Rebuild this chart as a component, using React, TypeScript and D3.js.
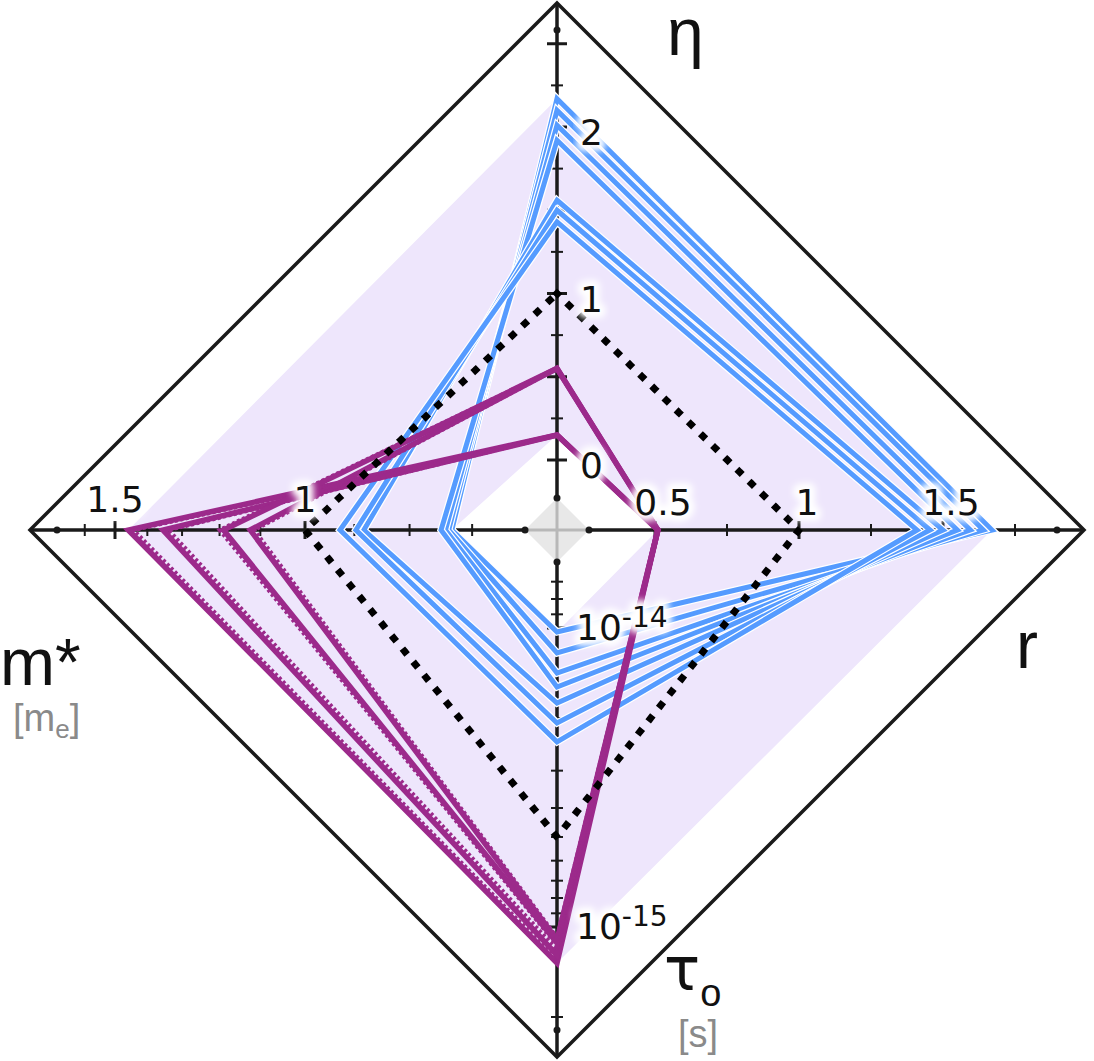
import React from 'react';
import * as d3 from 'd3';

const W = 1094;
const H = 1061;
const cx = 557;
const cy = 530;
const R_OUTER = 527;
const R_MIN = 32;
const R_MAX = 500;

// ---- axis tick definitions (data units) ----
const etaMajor = [0, 0.5, 1, 1.5, 2, 2.5];
const etaMinor = [0.25, 0.75, 1.25, 1.75, 2.25];
const etaLabels = [0, 1, 2];

const rMajor = [0.5, 1, 1.5];
const rMinor = [0.75, 1.25, 1.75];
const rLabels = [0.5, 1, 1.5];

const tauMajor = [1e-14, 1e-15];
const tauMinorRates = [0.7, 0.8, 0.9, 2, 3, 4, 5, 6, 7, 8, 9, 20]; // 1/tau in units of 1e14 s^-1
const tauLabels = [{ v: 1e-14, exp: '-14' }, { v: 1e-15, exp: '-15' }];

const massMajor = [1, 1.5];
const massMinor = [0.7, 0.8, 0.9, 1.1, 1.2, 1.3, 1.4, 1.6];
const massLabels = [1, 1.5];

// reference (dotted) values: eta, r, tau, m*
const refValues = [1, 1, 2e-15, 1];

// ---- blue series ----
const blueEta = [2.17, 2.1, 2.01, 1.92, 1.56, 1.5, 1.43];
const blueR = [1.67, 1.64, 1.595, 1.55, 1.5, 1.455, 1.41];
const blueTau = [9.7e-15, 8.25e-15, 7.07e-15, 6.35e-15, 5.61e-15, 4.81e-15, 4.16e-15];
const blueMass = [0.731, 0.736, 0.741, 0.748, 0.882, 0.897, 0.928];

// ---- purple series ----
const purpleEta = [0.15, 0.15, 0.15, 0.15, 0.55, 0.55, 0.55, 0.55];
const purpleR = [0.51, 0.51, 0.51, 0.51, 0.51, 0.51, 0.51, 0.51];
const purpleTau = [7.58e-16, 7.76e-16, 8.06e-16, 8.38e-16, 8.71e-16, 8.85e-16, 9.06e-16, 9.2e-16];
const purpleMass = [1.458, 1.443, 1.354, 1.339, 1.199, 1.19, 1.124, 1.115];
const purpleDashed = [false, true, false, true, true, false, false, true];

const BLUE = '#559bff';
const PURPLE = '#9c2a8b';
const LAVENDER = '#eee6fc';
const INK = '#1a1a1a';

const sEta = d3.scaleLinear().domain([0, 2]).range([70, 403]);
const sR = d3.scaleLinear().domain([0.5, 1.5]).range([98, 386]);
const sTau = d3.scaleLog().domain([1e-14, 1e-15]).range([98, 397]);
const sMass = d3.scaleLog().domain([1, 1.5]).range([252, 442]);
const scales: any[] = [sEta, sR, sTau, sMass];
const dirs = [
  [0, -1],
  [1, 0],
  [0, 1],
  [-1, 0],
];

function pt(axis: number, radius: number): [number, number] {
  return [cx + dirs[axis][0] * radius, cy + dirs[axis][1] * radius];
}

const blueSeries = blueEta.map((_, i) => [blueEta[i], blueR[i], blueTau[i], blueMass[i]]);
const purpleSeries = purpleEta.map((_, i) => [purpleEta[i], purpleR[i], purpleTau[i], purpleMass[i]]);
const allSeries = [...blueSeries, ...purpleSeries];

const lineGen = d3
  .line<[number, number]>()
  .x((d) => d[0])
  .y((d) => d[1])
  .curve(d3.curveLinearClosed);

function seriesPath(vals: number[]) {
  return lineGen(vals.map((v, a) => pt(a, scales[a](v))));
}

function radii(vals: number[]) {
  return vals.map((v, a) => scales[a](v));
}

const maxR = [0, 1, 2, 3].map((a) => d3.max(allSeries, (s) => scales[a](s[a])) as number);
const minR = [0, 1, 2, 3].map((a) => d3.min(allSeries, (s) => scales[a](s[a])) as number);

function polyPath(rs: number[]) {
  return lineGen(rs.map((r, a) => pt(a, r)));
}

const tickFont = '"DejaVu Sans", Verdana, sans-serif';
const nameFont = '"Liberation Sans", Arial, Helvetica, sans-serif';

function Ticks() {
  const items: JSX.Element[] = [];
  const add = (axis: number, radius: number, half: number, w: number, key: string) => {
    const [x, y] = pt(axis, radius);
    const horiz = axis === 1 || axis === 3;
    items.push(
      <line
        key={key}
        x1={horiz ? x : x - half}
        x2={horiz ? x : x + half}
        y1={horiz ? y - half : y}
        y2={horiz ? y + half : y}
        stroke={INK}
        strokeWidth={w}
      />
    );
  };
  etaMajor.forEach((v, i) => add(0, sEta(v), 10, 3, 'em' + i));
  etaMinor.forEach((v, i) => add(0, sEta(v), 6, 2, 'en' + i));
  rMajor.forEach((v, i) => add(1, sR(v), 9, 3, 'rm' + i));
  rMinor.forEach((v, i) => add(1, sR(v), 6, 2, 'rn' + i));
  tauMajor.forEach((v, i) => add(2, sTau(v), 10, 3, 'tm' + i));
  tauMinorRates.forEach((k, i) => add(2, sTau(1e-14 / k), 6, 2, 'tn' + i));
  massMajor.forEach((v, i) => add(3, sMass(v), 9, 3, 'mm' + i));
  massMinor.forEach((v, i) => add(3, sMass(v), 6, 2, 'mn' + i));
  return <g>{items}</g>;
}

function Halo({ x, y, anchor, children, size }: any) {
  return (
    <g fontFamily={tickFont} fontSize={size} textAnchor={anchor}>
      <text x={x} y={y} fill="white" stroke="white" strokeWidth={12} strokeLinejoin="round" filter="url(#blur)">
        {children}
      </text>
      <text x={x} y={y} fill="#111">
        {children}
      </text>
    </g>
  );
}

export default function App() {
  const fmt = (v: number) => String(v);
  return (
    <svg
      width={W}
      height={H}
      viewBox={`0 0 ${W} ${H}`}
      style={{ position: 'absolute', left: 0, top: 0, background: 'white' }}
    >
      <defs>
        <filter id="blur" x="-30%" y="-30%" width="160%" height="160%">
          <feGaussianBlur stdDeviation="3" />
        </filter>
      </defs>

      {/* shaded envelope between min and max of all series */}
      <path d={`${polyPath(maxR)} ${polyPath(minR)}`} fill={LAVENDER} fillRule="evenodd" />

      {/* center gray diamond */}
      <path d={polyPath([R_MIN, R_MIN, R_MIN, R_MIN]) as string} fill="#e8e8e8" />

      {/* outer frame */}
      <path d={polyPath([R_OUTER, R_OUTER, R_OUTER, R_OUTER]) as string} fill="none" stroke={INK} strokeWidth={3.5} strokeLinejoin="miter" />

      {/* axes */}
      {[0, 1, 2, 3].map((a) => {
        const [x0, y0] = pt(a, 0);
        const [x1, y1] = pt(a, R_MIN);
        const [x2, y2] = pt(a, R_OUTER);
        return (
          <g key={'ax' + a}>
            <line x1={x0} y1={y0} x2={x1} y2={y1} stroke="#b8b8b8" strokeWidth={3} />
            <line x1={x1} y1={y1} x2={x2} y2={y2} stroke={INK} strokeWidth={3.5} />
          </g>
        );
      })}
      <Ticks />
      {[0, 1, 2, 3].map((a) =>
        [R_MIN, R_MAX].map((r, j) => {
          const [x, y] = pt(a, r);
          return <circle key={'d' + a + j} cx={x} cy={y} r={3.5} fill={INK} />;
        })
      )}

      {/* blue series */}
      {blueSeries.map((s, i) => (
        <g key={'b' + i}>
          <path d={seriesPath(s) as string} fill="none" stroke="white" strokeWidth={7.5} strokeLinejoin="miter" />
          <path d={seriesPath(s) as string} fill="none" stroke={BLUE} strokeWidth={5} strokeLinejoin="miter" />
        </g>
      ))}

      {/* purple series */}
      {purpleSeries.map((s, i) => (
        <path
          key={'p' + i}
          d={seriesPath(s) as string}
          fill="none"
          stroke={PURPLE}
          strokeWidth={purpleDashed[i] ? 4.5 : 5.5}
          strokeDasharray={purpleDashed[i] ? '3 2.5' : undefined}
          strokeLinejoin="miter"
        />
      ))}

      {/* reference dotted diamond */}
      <path
        d={polyPath(radii(refValues)) as string}
        fill="none"
        stroke="#000"
        strokeWidth={7}
        strokeDasharray="0.5 16.5"
        strokeLinecap="square"
      />

      {/* tick labels */}
      {etaLabels.map((v, i) => (
        <Halo key={'el' + i} x={cx + 23} y={cy - sEta(v) + 18} anchor="start" size={36}>
          {fmt(v)}
        </Halo>
      ))}
      {rLabels.map((v, i) => (
        <Halo key={'rl' + i} x={cx + sR(v) + 8} y={cy - 15} anchor="middle" size={36}>
          {fmt(v)}
        </Halo>
      ))}
      {massLabels.map((v, i) => (
        <Halo key={'ml' + i} x={cx - sMass(v)} y={cy - 18} anchor="middle" size={36}>
          {fmt(v)}
        </Halo>
      ))}
      {tauLabels.map((t, i) => (
        <Halo key={'tl' + i} x={cx + 19} y={cy + sTau(t.v) + 12} anchor="start" size={36}>
          10
          <tspan fontSize={28} dy={-13}>
            {t.exp}
          </tspan>
        </Halo>
      ))}

      {/* axis names */}
      <g fontFamily={nameFont} fill="#111">
        <text x={667} y={55} fontSize={66}>
          η
        </text>
        <text x={1016} y={668} fontSize={66}>
          r
        </text>
        <text x={0} y={685} fontSize={66}>
          m*
        </text>
        <text x={664} y={990} fontSize={60} fontFamily={tickFont}>
          τ
          <tspan fontSize={38} dy={16} fontFamily={nameFont}>
            o
          </tspan>
        </text>
        <text x={678} y={1047} fontSize={38} fill="#8a8a8a">
          [s]
        </text>
        <text x={13} y={731} fontSize={38} fill="#8a8a8a">
          [m
          <tspan fontSize={26} dy={7}>
            e
          </tspan>
          <tspan dy={-7}>]</tspan>
        </text>
      </g>
    </svg>
  );
}
